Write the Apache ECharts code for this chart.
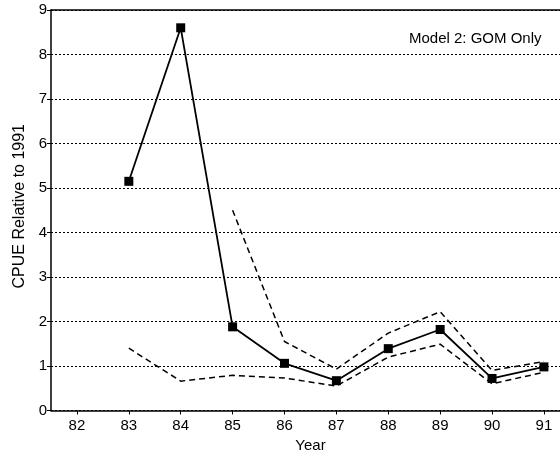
<!DOCTYPE html>
<html>
<head>
<meta charset="utf-8">
<script src="https://cdn.jsdelivr.net/npm/echarts@6/dist/echarts.min.js"></script>
<style>
html,body{margin:0;padding:0;background:#fff;}
#chart{width:560px;height:454px;}
</style>
</head>
<body>
<div id="chart"></div>
<script>
var years = [83, 84, 85, 86, 87, 88, 89, 90, 91];
var cpue  = [5.15, 8.6, 1.88, 1.06, 0.67, 1.39, 1.82, 0.72, 0.98];
var upper = [null, null, 4.5, 1.55, 0.93, 1.74, 2.22, 0.9, 1.1];
var lower = [1.4, 0.66, 0.79, 0.73, 0.55, 1.2, 1.49, 0.6, 0.86];
var xTicks = [82, 83, 84, 85, 86, 87, 88, 89, 90, 91];

function pairs(vals) {
  return years.map(function (y, i) { return [y, vals[i]]; }).filter(function (p) { return p[1] !== null; });
}

var chart = echarts.init(document.getElementById('chart'), null, {renderer: 'canvas'});
var font = 'Liberation Sans, Arial, Helvetica, sans-serif';
chart.setOption({
  animation: false,
  backgroundColor: '#fff',
  title: {
    text: 'Model 2: GOM Only',
    left: 404, top: 26,
    textStyle: {fontFamily: font, fontSize: 15, fontWeight: 'normal', color: '#000'}
  },
  grid: {left: 51, right: 0, top: 10, bottom: 43.5, outerBoundsMode: 'none', containLabel: false},
  xAxis: [{
    type: 'value', min: 81.5, max: 91.31,
    name: 'Year', nameLocation: 'middle', nameGap: 22,
    nameTextStyle: {fontFamily: font, fontSize: 15, color: '#000', padding: [0, 0, 0, 10]},
    axisLine: {show: true, lineStyle: {color: '#000', width: 1.5}},
    axisTick: {show: true, customValues: xTicks, length: 4, lineStyle: {color: '#000'}},
    axisLabel: {customValues: xTicks, fontFamily: font, fontSize: 15, color: '#000', margin: 8},
    splitLine: {show: false}
  }, {
    type: 'value', position: 'top', min: 81.5, max: 91.31,
    axisLine: {show: true, lineStyle: {color: '#000', width: 1.5}},
    axisTick: {show: false}, axisLabel: {show: false}, splitLine: {show: false}
  }],
  yAxis: {
    type: 'value', min: 0, max: 9, interval: 1,
    name: 'CPUE Relative to 1991', nameLocation: 'middle', nameGap: 22,
    nameTextStyle: {fontFamily: font, fontSize: 16, color: '#000', padding: [0, 0, 0, 8]},
    axisLine: {show: true, lineStyle: {color: '#000', width: 1.5}},
    axisTick: {show: true, length: 4, lineStyle: {color: '#000'}},
    axisLabel: {fontFamily: font, fontSize: 15, color: '#000', margin: 4},
    splitLine: {show: true, lineStyle: {color: '#000', type: [2, 2], width: 1}}
  },
  series: [
    {
      type: 'line', data: pairs(upper), symbol: 'none',
      lineStyle: {color: '#000', width: 1.5, type: [6, 4]}, z: 2
    },
    {
      type: 'line', data: pairs(lower), symbol: 'none',
      lineStyle: {color: '#000', width: 1.5, type: [6, 4]}, z: 2
    },
    {
      type: 'line', data: pairs(cpue), symbol: 'rect', symbolSize: 9,
      itemStyle: {color: '#000'},
      lineStyle: {color: '#000', width: 1.8}, z: 3
    }
  ]
});
</script>
</body>
</html>
